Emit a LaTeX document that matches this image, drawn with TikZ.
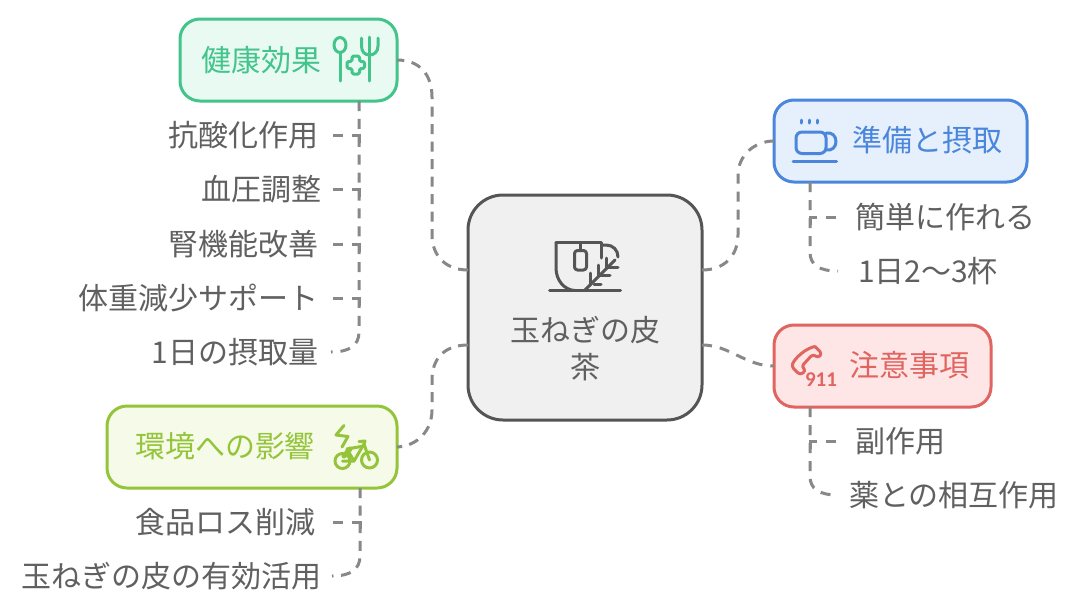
\documentclass[tikz,border=0pt]{standalone}
\usepackage{fontspec}
\setmainfont{Noto Sans CJK JP}
\newfontfamily\numfont{Carlito}
\definecolor{txt}{HTML}{606060}
\definecolor{conn}{HTML}{888888}
\definecolor{grS}{HTML}{42C48B}\definecolor{grF}{HTML}{E9FAF2}
\definecolor{blS}{HTML}{4A86DC}\definecolor{blF}{HTML}{E6F0FD}
\definecolor{reS}{HTML}{E0645F}\definecolor{reF}{HTML}{FFE6E6}
\definecolor{liS}{HTML}{94C43A}\definecolor{liF}{HTML}{F5FBE8}
\definecolor{ceS}{HTML}{555555}\definecolor{ceF}{HTML}{F0F0F0}
\tikzset{
  boxnode/.style n args={4}{draw=#1,fill=#2,line width=3pt,rounded corners=20pt,
    minimum width=#3,minimum height=#4,inner sep=0pt,outer sep=0pt},
  label/.style={inner sep=0pt,outer sep=0pt,font=\fontsize{30}{36}\selectfont},
  leaf/.style={label,text=txt,anchor=east},
  leafr/.style={label,text=txt,anchor=west},
  trunk/.style={draw=conn,line width=3pt,dash pattern=on 10pt off 8pt},
  stub/.style={draw=conn,line width=3pt,dash pattern=on 10pt off 9pt on 15pt off 60pt},
  ico/.style={line width=3pt,line cap=round,line join=round,fill=none},
}
\begin{document}
\begin{tikzpicture}[x=1pt,y=-1pt]
\useasboundingbox (0,0) rectangle (1080,614);
\fill[white] (0,0) rectangle (1080,614);
% boxes
\node[boxnode={ceS}{ceF}{234pt}{225pt},rounded corners=35pt] (center) at (585,307.5) {};
\node[boxnode={grS}{grF}{217pt}{82pt}] (health) at (288.5,60) {};
\node[boxnode={blS}{blF}{253pt}{82pt}] (prep) at (900.5,141) {};
\node[boxnode={reS}{reF}{217pt}{82pt}] (caution) at (882.5,366) {};
\node[boxnode={liS}{liF}{290pt}{82pt}] (env) at (252,447) {};
% titles
\node[label,text=grS] (healthT) at (261,60) {健康効果};
\node[label,text=blS] (prepT) at (927.5,140) {準備と摂取};
\node[label,text=reS] (cautionT) at (909,365) {注意事項};
\node[label,text=liS] (envT) at (225,446) {環境への影響};
\node[label,text=txt] (centerA) at (585,330) {玉ねぎの皮};
\node[label,text=txt] (centerB) at (585,367) {茶};
% leaves
\node[leaf] (h1) at (318,135) {抗酸化作用};
\node[leaf] (h2) at (321,189) {血圧調整};
\node[leaf] (h3) at (318,244) {腎機能改善};
\node[leaf] (h4) at (318.5,298) {体重減少サポート};
\node[leaf] (h5) at (318,352) {1日の摂取量};
\node[leaf] (e1) at (315.5,522) {食品ロス削減};
\node[leaf] (e2) at (321.5,576) {玉ねぎの皮の有効活用};
\node[leafr] (p1) at (855,217) {簡単に作れる};
\node[leafr] (p2) at (858,271) {1日2〜3杯};
\node[leafr] (c1) at (855,441) {副作用};
\node[leafr] (c2) at (849,495) {薬との相互作用};
% tips of the stubs
\coordinate (ht1) at (333,135);\coordinate (ht2) at (333,189);\coordinate (ht3) at (333,244);\coordinate (ht4) at (333,298);
\coordinate (et1) at (333,522);
\coordinate (pt1) at (836,217);\coordinate (ct1) at (836,441);
% main connectors
\draw[trunk,dash pattern=on 10pt off 7.5pt] ([yshift=37.5pt]center.west) .. controls (445,270) and (432,255) .. (432,235) -- (432,97)
  .. controls (432,75) and (420,60) .. (health.east);
\draw[trunk,dash pattern=on 10pt off 7.3pt] ([yshift=-37.5pt]center.west) .. controls (445,345) and (432,358) .. (432,380) -- (432,410)
  .. controls (432,430) and (418,446) .. (env.east);
\draw[trunk] ([yshift=37.5pt]center.east) .. controls (725,270) and (738,255) .. (738,235) -- (738,175)
  .. controls (738,155) and (755,141) .. (prep.west);
\draw[trunk] ([yshift=-37.5pt]center.east) .. controls (730,345) and (745,366) .. (caution.west);
% branches
\draw[trunk,dash pattern=on 10pt off 7.9pt] (health.south -| 359,0) -- (359,332) .. controls (359,345) and (350,352) .. (331,352);
\draw[trunk,dash pattern=on 10pt off 7.6pt] (env.south -| 360,0) -- (360,556) .. controls (360,569) and (351,576) .. (332,576);
\draw[trunk] (prep.south -| 810,0) -- (810,252) .. controls (810,265) and (819,271) .. (838,271);
\draw[trunk] (caution.south -| 810,0) -- (810,476) .. controls (810,489) and (819,495) .. (838,495);
\foreach \t in {ht1,ht2,ht3,ht4}{\draw[stub] (\t) -- (\t -| 359,0) -- ++(0,16);}
\draw[stub] (et1) -- (et1 -| 360,0) -- ++(0,16);
\draw[stub] (pt1) -- (pt1 -| 810,0) -- ++(0,16);
\draw[stub] (ct1) -- (ct1 -| 810,0) -- ++(0,16);
% centre icon
\begin{scope}[ico,draw=ceS]
\draw (549.5,290.5) -- (620.5,290.5);
\draw (556,242.5) -- (601.5,242.5) -- (601.5,258);
\draw (556,242.5) -- (556,268) .. controls (556,280) and (564,290) .. (575,290.5);
\draw (601.5,245) -- (606,245) .. controls (613,245) and (618,250) .. (618,257);
\draw (580,243) -- (580,250.5);
\draw[rounded corners=3pt] (574.5,250.5) rectangle (586.5,270);
\draw (585,290) -- (615,260);
\draw (590,285) -- (590,273);\draw (594,284) -- (601,284) ;
\draw (598,276) -- (598,265);\draw (600,275) -- (610,275);
\draw (606,268) -- (606,258);\draw (608,267) -- (618,267);
\end{scope}
% health icon
\begin{scope}[ico,draw=grS]
\draw (340,45) ellipse (6 and 7.5);
\draw (340,52.5) -- (340,81);
\draw (369.5,37) -- (369.5,81);
\draw (361.5,38) -- (361.5,46) .. controls (361.5,52) and (365,55) .. (369.5,55)
  .. controls (374,55) and (378,52) .. (378,46) -- (378,38);
\draw[rounded corners=1.5pt] (352,56) -- (359.5,56) -- (359.5,61.5) -- (364.5,61.5) -- (364.5,68.5) -- (359.5,68.5) -- (359.5,74) -- (352,74) -- (352,68.5) -- (347,68.5) -- (347,61.5) -- (352,61.5) -- cycle;
\end{scope}
% prep icon
\begin{scope}[ico,draw=blS]
\draw[rounded corners=6pt] (796,132) -- (826,132) -- (826,153.5) -- (796,153.5) -- cycle;
\draw (826,133) .. controls (832,132) and (836,136) .. (836,141.5) .. controls (836,147) and (832,151) .. (826,150);
\draw (793,161.5) -- (836.5,161.5);
\draw (801.5,120) -- (801.5,123);\draw (809.5,120) -- (809.5,123);\draw (817.5,120) -- (817.5,123);
\end{scope}
% caution icon
\begin{scope}[ico,draw=reS]
\draw[rounded corners=3pt] (815,346.5) -- (822,353.5) -- (818,358) -- (813,354) -- (801.5,366.5) -- (806,370.5) -- (800,375) -- (791.5,366.5) .. controls (795,358) and (806,348) .. (815,346.5);
\end{scope}
\node[inner sep=0pt,text=reS,font=\numfont\bfseries\fontsize{21}{21}\selectfont] (n911) at (821,380) {911};
% env icon
\begin{scope}[ico,draw=liS]
\draw (342.5,461) circle (7.5);
\draw (369.5,460) circle (8);
\draw (344,425.5) -- (336,435) -- (348,436.5) -- (342,447);
\draw (342.5,461) -- (354,461) -- (364,444) -- (369.5,460);
\draw (347,449) -- (364,446);
\draw (347,449) -- (354,461);
\draw (359,441.5) -- (365,441) -- (364,444);
\draw[line width=5pt] (344,456) -- (350,449);
\end{scope}
\end{tikzpicture}
\end{document}
